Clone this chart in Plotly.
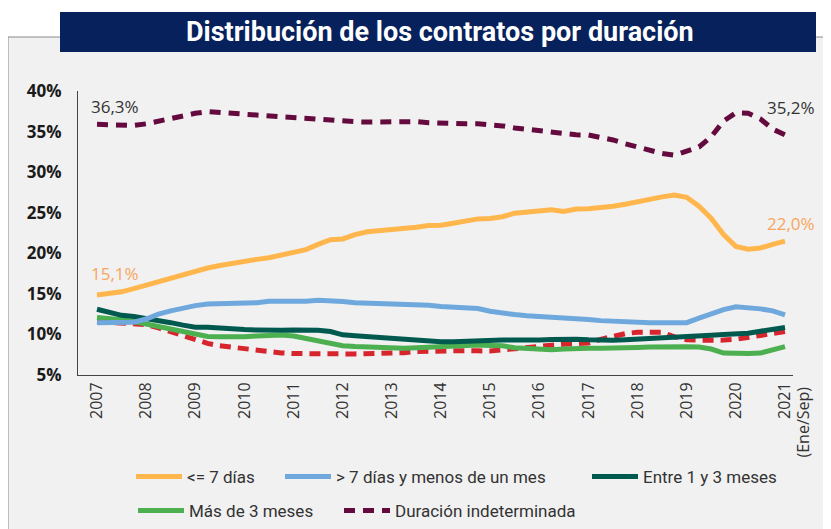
import plotly.graph_objects as go

# ---------------- data ----------------
periods = [2007 + q / 4 for q in range(57)]  # quarterly positions 2007 .. 2021

le7 = [14.85, 15.05, 15.25, 15.65, 16.08, 16.5, 16.96, 17.38, 17.79, 18.18,
       18.5, 18.8, 19.1, 19.25, 19.45, 19.75, 20.0, 20.45, 21.1, 21.67,
       21.77, 22.3, 22.65, 22.75, 22.9, 23.05, 23.2, 23.41, 23.45, 23.7,
       23.95, 24.24, 24.3, 24.5, 24.94, 25.05, 25.2, 25.35, 25.15, 25.45,
       25.5, 25.6, 25.8, 26.05, 26.35, 26.75, 26.95, 27.19, 26.9, 25.8,
       24.3, 22.3, 20.85, 20.5, 20.65, 21.1, 21.5]

gt7 = [11.45, 11.45, 11.45, 11.5, 11.9, 12.5, 12.9, 13.25, 13.55, 13.75,
       13.8, 13.84, 13.84, 13.9, 14.1, 14.05, 14.05, 14.1, 14.2, 14.2,
       14.05, 13.9, 13.85, 13.9, 13.85, 13.85, 13.75, 13.6, 13.45, 13.33,
       13.28, 13.2, 12.85, 12.6, 12.45, 12.3, 12.22, 12.15, 12.1, 11.97,
       11.85, 11.7, 11.6, 11.5, 11.45, 11.45, 11.45, 11.45, 11.45, 12.0,
       12.6, 13.05, 13.4, 13.3, 13.15, 12.9, 12.4]

m1_3 = [13.1, 12.65, 12.35, 12.2, 12.0, 11.75, 11.45, 11.15, 10.9, 10.88,
        10.75, 10.65, 10.6, 10.55, 10.48, 10.5, 10.55, 10.6, 10.5, 10.35,
        9.95, 9.85, 9.75, 9.6, 9.45, 9.3, 9.2, 9.12, 9.1, 9.1,
        9.18, 9.25, 9.32, 9.32, 9.32, 9.25, 9.3, 9.38, 9.45, 9.42,
        9.35, 9.25, 9.28, 9.35, 9.45, 9.55, 9.6, 9.65, 9.75, 9.85,
        9.9, 9.98, 10.05, 10.15, 10.4, 10.65, 10.85]

m3 = [12.1, 12.0, 11.8, 11.6, 11.3, 10.9, 10.6, 10.3, 10.0, 9.75,
      9.7, 9.65, 9.7, 9.8, 9.9, 9.92, 9.8, 9.5, 9.15, 8.85,
      8.6, 8.5, 8.42, 8.37, 8.3, 8.3, 8.35, 8.45, 8.55, 8.6,
      8.65, 8.7, 8.65, 8.6, 8.35, 8.25, 8.15, 8.1, 8.2, 8.29,
      8.29, 8.29, 8.29, 8.35, 8.4, 8.45, 8.49, 8.49, 8.49, 8.45,
      8.2, 7.7, 7.6, 7.65, 7.7, 8.1, 8.5]

indet_red = [11.6, 11.5, 11.45, 11.35, 11.2, 10.8, 10.3, 9.8, 9.3, 8.9,
             8.6, 8.4, 8.2, 8.05, 7.85, 7.72, 7.65, 7.6, 7.6, 7.6,
             7.6, 7.6, 7.6, 7.6, 7.6, 7.75, 7.9, 7.95, 8.0, 8.0,
             8.0, 7.98, 7.96, 8.1, 8.25, 8.5, 8.65, 8.78, 8.8, 8.85,
             8.95, 9.4, 9.8, 10.1, 10.27, 10.27, 10.27, 9.7, 9.35, 9.28,
             9.25, 9.3, 9.4, 9.6, 9.85, 10.1, 10.35]

indet = [35.9, 35.9, 35.85, 35.75, 35.95, 36.3, 36.55, 36.95, 37.25, 37.45,
         37.35, 37.25, 37.1, 36.98, 36.85, 36.72, 36.6, 36.53, 36.45, 36.32,
         36.28, 36.22, 36.17, 36.2, 36.23, 36.23, 36.23, 36.1, 36.02, 35.97,
         35.95, 35.95, 35.9, 35.7, 35.45, 35.27, 35.1, 34.9, 34.7, 34.6,
         34.58, 34.3, 33.97, 33.5, 33.05, 32.7, 32.3, 32.08, 32.55, 33.1,
         34.38, 36.3, 37.3, 37.25, 36.55, 35.3, 34.6]

year_ticks = list(range(2007, 2022))
year_labels = [str(y) for y in year_ticks]
y_ticks = [5, 10, 15, 20, 25, 30, 35, 40]
y_labels = [f"{v}%" for v in y_ticks]

title_text = "Distribución de los contratos por duración"
names = ["<= 7 días", "> 7 días y menos de un mes", "Entre 1 y 3 meses",
         "Más de 3 meses", "Duración indeterminada"]

# ---------------- figure ----------------
C_OR = "#FFB74D"
C_BL = "#6FA8DC"
C_DG = "#00594F"
C_GR = "#4CAF50"
C_RD = "#D7252E"
C_PU = "#650A3E"

NARROW = "Liberation Sans Narrow, Roboto, sans-serif"
OPEN = "Open Sans, sans-serif"

fig = go.Figure()
fig.add_trace(go.Scatter(x=periods, y=indet_red, mode="lines", showlegend=False,
                         line=dict(color=C_RD, width=5, dash="11px,7px")))
fig.add_trace(go.Scatter(x=periods, y=m3, mode="lines", name=names[3], legend="legend4",
                         line=dict(color=C_GR, width=5)))
fig.add_trace(go.Scatter(x=periods, y=m1_3, mode="lines", name=names[2], legend="legend3",
                         line=dict(color=C_DG, width=5)))
fig.add_trace(go.Scatter(x=periods, y=gt7, mode="lines", name=names[1], legend="legend2",
                         line=dict(color=C_BL, width=5)))
fig.add_trace(go.Scatter(x=periods, y=le7, mode="lines", name=names[0], legend="legend",
                         line=dict(color=C_OR, width=5)))
fig.add_trace(go.Scatter(x=periods, y=indet, mode="lines", name=names[4], legend="legend5",
                         line=dict(color=C_PU, width=5, dash="11px,8px")))

# target on-screen plot area: x 78..793, y 91..375 (page body adds an 8px offset)
OFF = 8
L, R, T, B = 78, 793, 91, 375
W, H = R - L, B - T
def px(x):
    return (x - L) / W
def py(y):
    return (B - y) / H

leg_common = dict(orientation="h", bgcolor="rgba(0,0,0,0)", borderwidth=0,
                  font=dict(family=NARROW, size=17, color="#333333"),
                  xanchor="left", yanchor="middle", itemwidth=46)
fig.update_layout(
    width=831, height=529,
    margin=dict(l=L - OFF, r=831 - (R - OFF), t=T - OFF, b=529 - (B - OFF),
                autoexpand=False),
    paper_bgcolor="white",
    plot_bgcolor="rgba(0,0,0,0)",
    legend=dict(x=px(131), y=py(477), **leg_common),
    legend2=dict(x=px(280), y=py(477), **leg_common),
    legend3=dict(x=px(587), y=py(477), **leg_common),
    legend4=dict(x=px(133), y=py(511), **leg_common),
    legend5=dict(x=px(339), y=py(511), **leg_common),
    xaxis=dict(range=[2007 - 19 / 49.14, 2021 + 8 / 49.14],
               tickvals=year_ticks, ticktext=year_labels, tickangle=-90,
               showgrid=False, zeroline=False, showline=True,
               linecolor="#444444", linewidth=1, ticks="",
               tickfont=dict(family=OPEN, size=16, color="#333333")),
    yaxis=dict(range=[5, 40], tickvals=y_ticks, ticktext=y_labels,
               showgrid=False, zeroline=False, showline=True,
               linecolor="#444444", linewidth=1, ticks="",
               ticklabelstandoff=12,
               tickfont=dict(family=OPEN, size=17, color="#1a1a1a", weight="bold")),
    shapes=[
        dict(type="rect", xref="paper", yref="paper", layer="below",
             x0=px(8), x1=px(845), y0=py(37), y1=py(545),
             fillcolor="#f1f1f1", line=dict(color="#8a8a8a", width=1)),
        dict(type="rect", xref="paper", yref="paper", layer="above",
             x0=px(60), x1=px(816), y0=py(12), y1=py(52),
             fillcolor="#06215B", line=dict(width=0)),
    ],
    annotations=[
        dict(text=title_text, xref="paper", yref="paper", x=px(440), y=py(32),
             xanchor="center", yanchor="middle", showarrow=False,
             font=dict(family=NARROW, size=27, color="white", weight="bold")),
        dict(text="36,3%", xref="paper", yref="paper", x=px(115), y=py(106),
             xanchor="center", yanchor="middle", showarrow=False,
             font=dict(family=OPEN, size=17, color="#333333")),
        dict(text="15,1%", xref="paper", yref="paper", x=px(115), y=py(273),
             xanchor="center", yanchor="middle", showarrow=False,
             font=dict(family=OPEN, size=17, color="#F7A65C")),
        dict(text="35,2%", xref="paper", yref="paper", x=px(791), y=py(107),
             xanchor="center", yanchor="middle", showarrow=False,
             font=dict(family=OPEN, size=17, color="#333333")),
        dict(text="22,0%", xref="paper", yref="paper", x=px(791), y=py(223),
             xanchor="center", yanchor="middle", showarrow=False,
             font=dict(family=OPEN, size=17, color="#F7A65C")),
        dict(text="(Ene/Sep)", xref="x", yref="paper", x=2021, xshift=17,
             y=py(385), xanchor="center", yanchor="top", textangle=-90,
             showarrow=False,
             font=dict(family=OPEN, size=16, color="#333333")),
    ],
)

fig.write_html("out.html")
